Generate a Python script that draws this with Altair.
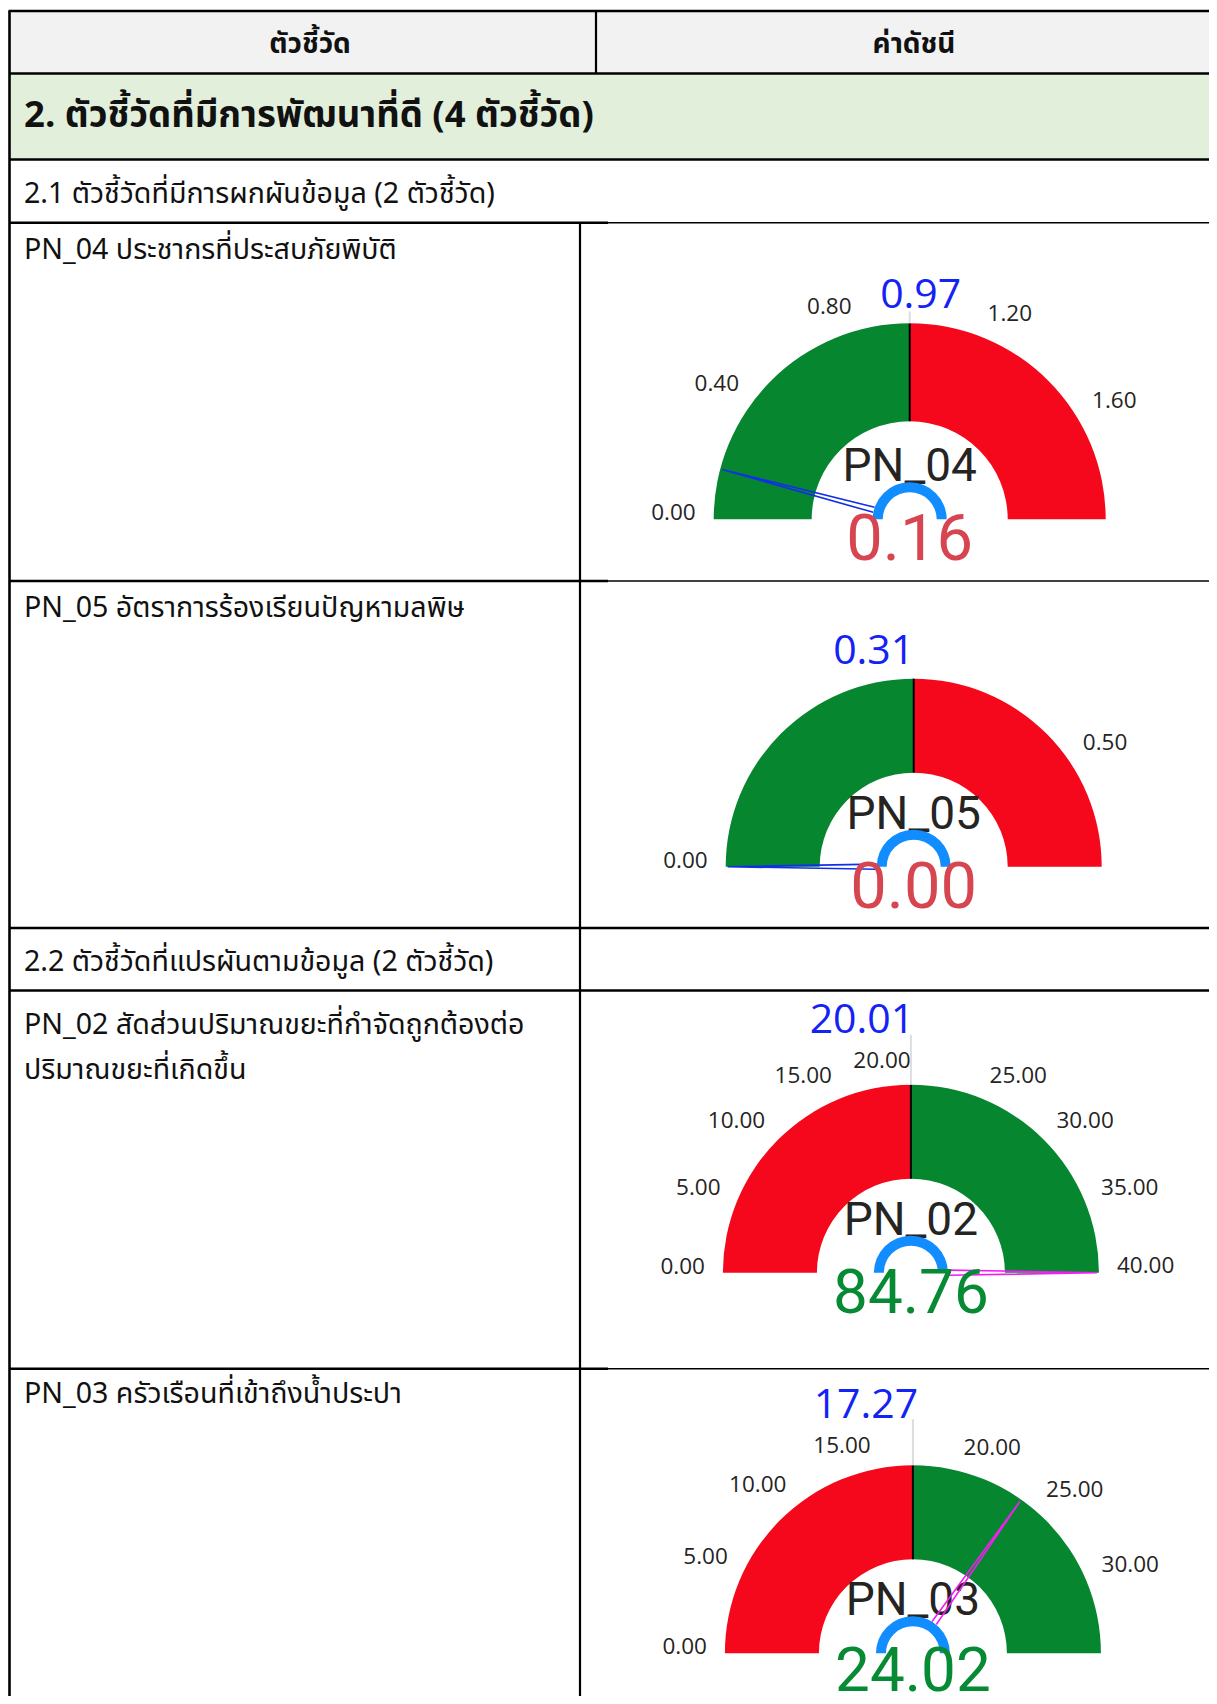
import math
import altair as alt
import pandas as pd

# ---------------- data ----------------
header_labels = ["ตัวชี้วัด", "ค่าดัชนี"]
section_title = "2. ตัวชี้วัดที่มีการพัฒนาที่ดี (4 ตัวชี้วัด)"
group_titles = ["2.1 ตัวชี้วัดที่มีการผกผันข้อมูล (2 ตัวชี้วัด)",
                "2.2 ตัวชี้วัดที่แปรผันตามข้อมูล (2 ตัวชี้วัด)"]
indicator_lines = [
    ["PN_04 ประชากรที่ประสบภัยพิบัติ"],
    ["PN_05 อัตราการร้องเรียนปัญหามลพิษ"],
    ["PN_02 สัดส่วนปริมาณขยะที่กำจัดถูกต้องต่อ", "ปริมาณขยะที่เกิดขึ้น"],
    ["PN_03 ครัวเรือนที่เข้าถึงน้ำประปา"],
]
gauge_codes = ["PN_04", "PN_05", "PN_02", "PN_03"]
gauge_values = [0.16, 0.00, 84.76, 24.02]
gauge_targets = [0.97, 0.31, 20.01, 17.27]
gauge_max = [1.94, 0.62, 40.02, 34.54]
higher_is_better = [False, False, True, True]
tick_values = [
    [0.0, 0.4, 0.8, 1.2, 1.6],
    [0.0, 0.5],
    [0, 5, 10, 15, 20, 25, 30, 35, 40],
    [0, 5, 10, 15, 20, 25, 30],
]

# ---------------- layout & style ----------------
W, H = 1201, 1688          # whole svg (page margin 8)
GOOD, BAD = "#06862F", "#F5081B"
HUB = "#118DFF"
TARGET_TXT = "#1322F5"
VALUE_TXT = ["#D64550", "#D64550", "#078A34", "#078A34"]
VALUE_FS = [65, 65, 62, 62]
VALUE_DY = [41, 41, 40, 38]
NEEDLE = ["#1030E8", "#1030E8", "#F01EF0", "#F01EF0"]
THAI_FONT = "Tahoma, 'Leelawadee UI', 'Noto Sans Thai', 'Noto Sans', sans-serif"
NUM_FONT = "'Open Sans', 'Noto Sans', sans-serif"
DIN_FONT = "Roboto, 'Noto Sans', sans-serif"

LEFT, RIGHT = 9.5, 8 + W
COL_HEAD, COL = 596, 580
Y_TOP, Y_HEAD, Y_SEC, Y_G1 = 11, 73.5, 159.5, 222.7
Y_R1, Y_R2, Y_G2, Y_R3 = 581, 928, 990.5, 1368.7
THICK_END = 608

gauge_cx = [909.7, 913.7, 910.9, 912.9]
gauge_cy = [519.3, 866.7, 1272.7, 1653.3]
gauge_ro = [196, 188, 188, 188]
target_dx = [11, -40, -49, -47]
target_dy = [-211, -203, -240, -235]
leader_len = [12, 0, 50, 46]

xs = alt.Scale(domain=[8, 8 + W], range=[0, W], nice=False, zero=False)
ys = alt.Scale(domain=[8, 8 + H], range=[0, H], nice=False, zero=False)
ts = alt.Scale(domain=[0, 1], range=[-math.pi / 2, math.pi / 2], nice=False, zero=False)


def X(f):
    return alt.X(f"{f}:Q", scale=xs, axis=None)


def Y(f):
    return alt.Y(f"{f}:Q", scale=ys, axis=None)


# ---------------- table ----------------
bg = pd.DataFrame([
    dict(x0=LEFT, x1=RIGHT, y0=Y_TOP, y1=Y_HEAD, c="#F2F2F2"),
    dict(x0=LEFT, x1=RIGHT, y0=Y_HEAD, y1=Y_SEC, c="#E2EFDA"),
])
bg_layer = alt.Chart(bg).mark_rect().encode(
    x=X("x0"), x2="x1", y=Y("y0"), y2="y1", color=alt.Color("c:N", scale=None))

lines = pd.DataFrame([
    dict(x0=LEFT - 1, x1=RIGHT, y0=Y_TOP, y1=Y_TOP, w=2.6),
    dict(x0=LEFT, x1=RIGHT, y0=Y_HEAD, y1=Y_HEAD, w=2.6),
    dict(x0=LEFT, x1=RIGHT, y0=Y_SEC, y1=Y_SEC, w=2.6),
    dict(x0=LEFT, x1=THICK_END, y0=Y_G1, y1=Y_G1, w=2.6),
    dict(x0=THICK_END, x1=RIGHT, y0=Y_G1, y1=Y_G1, w=1.4),
    dict(x0=LEFT, x1=THICK_END, y0=Y_R1, y1=Y_R1, w=2.6),
    dict(x0=THICK_END, x1=RIGHT, y0=Y_R1, y1=Y_R1, w=1.4),
    dict(x0=LEFT, x1=RIGHT, y0=Y_R2, y1=Y_R2, w=2.6),
    dict(x0=LEFT, x1=RIGHT, y0=Y_G2, y1=Y_G2, w=2.6),
    dict(x0=LEFT, x1=THICK_END, y0=Y_R3, y1=Y_R3, w=2.6),
    dict(x0=THICK_END, x1=RIGHT, y0=Y_R3, y1=Y_R3, w=1.4),
    dict(x0=LEFT, x1=LEFT, y0=Y_TOP, y1=8 + H, w=2.6),
    dict(x0=COL_HEAD, x1=COL_HEAD, y0=Y_TOP, y1=Y_HEAD, w=2.2),
    dict(x0=COL, x1=COL, y0=Y_G1, y1=8 + H, w=2.2),
])
line_layer = alt.Chart(lines).mark_rule(color="#000000").encode(
    x=X("x0"), x2="x1", y=Y("y0"), y2="y1",
    strokeWidth=alt.StrokeWidth("w:Q", scale=None))

head_txt = pd.DataFrame(dict(t=header_labels, x=[310, 914], y=[45, 45]))
head_layer = alt.Chart(head_txt).mark_text(
    font=THAI_FONT, fontSize=28, fontWeight="bold", align="center",
    baseline="middle", color="#111111").encode(x=X("x"), y=Y("y"), text="t:N")

sec_txt = pd.DataFrame(dict(t=[section_title], x=[24], y=[116]))
sec_layer = alt.Chart(sec_txt).mark_text(
    font=THAI_FONT, fontSize=36.5, fontWeight="bold", align="left",
    baseline="middle", color="#111111").encode(x=X("x"), y=Y("y"), text="t:N")

row_t, row_y = [], []
row_t.append(group_titles[0]); row_y.append(194)
row_t.append(indicator_lines[0][0]); row_y.append(250)
row_t.append(indicator_lines[1][0]); row_y.append(608)
row_t.append(group_titles[1]); row_y.append(962)
row_t.append(indicator_lines[2][0]); row_y.append(1025)
row_t.append(indicator_lines[2][1]); row_y.append(1070)
row_t.append(indicator_lines[3][0]); row_y.append(1394)
rows = pd.DataFrame(dict(t=row_t, y=row_y, x=[24] * len(row_t)))
row_layer = alt.Chart(rows).mark_text(
    font=THAI_FONT, fontSize=28.6, align="left", baseline="middle",
    color="#111111").encode(x=X("x"), y=Y("y"), text="t:N")

# ---------------- gauges ----------------
g_rows, hub_rows, needle_rows, tick_rows, lab_rows = [], [], [], [], []
for i in range(4):
    cx, cy, ro = gauge_cx[i], gauge_cy[i], gauge_ro[i]
    ri = ro / 2
    left_c, right_c = (BAD, GOOD) if higher_is_better[i] else (GOOD, BAD)
    base = dict(g=i, cx=cx, cy=cy, ro=ro, ri=ri, mx=gauge_max[i],
                tgt=gauge_targets[i], val=gauge_values[i])
    g_rows.append(dict(base, a="lo", c=left_c, s=0.0, e=gauge_targets[i]))
    g_rows.append(dict(base, a="hi", c=right_c, s=gauge_targets[i], e=gauge_max[i]))
    hub_rows.append(dict(base, c=HUB))
    for k, idx in ((-1, 0), (0, 1), (1, 2)):
        needle_rows.append(dict(base, k=k, idx=idx, c=NEEDLE[i]))
    for v in tick_values[i]:
        tick_rows.append(dict(base, v=v))
    lab_rows.append(dict(base, name=gauge_codes[i], vc=VALUE_TXT[i], vfs=VALUE_FS[i],
                         vdy=VALUE_DY[i], tdx=target_dx[i], tdy=target_dy[i],
                         lead=leader_len[i]))

gdf = pd.DataFrame(g_rows)
arc_layer = alt.Chart(gdf).transform_calculate(
    f0="datum.s / datum.mx", f1="datum.e / datum.mx"
).mark_arc(stroke=None).encode(
    x=X("cx"), y=Y("cy"),
    theta=alt.Theta("f0:Q", scale=ts, stack=None), theta2="f1:Q",
    radius=alt.Radius("ro:Q", scale=None), radius2="ri:Q",
    color=alt.Color("c:N", scale=None))

tgt_layer = alt.Chart(pd.DataFrame(lab_rows)).transform_calculate(
    phi="PI * datum.tgt / datum.mx",
    xa="datum.cx - datum.ri * cos(datum.phi)", ya="datum.cy - datum.ri * sin(datum.phi)",
    xb="datum.cx - datum.ro * cos(datum.phi)", yb="datum.cy - datum.ro * sin(datum.phi)",
).mark_rule(color="#000000", strokeWidth=2).encode(
    x=X("xa"), y=Y("ya"), x2="xb", y2="yb")

lead_layer = alt.Chart(pd.DataFrame(lab_rows)).transform_filter(
    "datum.lead > 0").transform_calculate(
    phi="PI * datum.tgt / datum.mx",
    xa="datum.cx - datum.ro * cos(datum.phi)", ya="datum.cy - datum.ro * sin(datum.phi)",
    xb="datum.cx - (datum.ro + datum.lead) * cos(datum.phi)",
    yb="datum.cy - (datum.ro + datum.lead) * sin(datum.phi)",
).mark_rule(color="#DDDDDD", strokeWidth=2).encode(
    x=X("xa"), y=Y("ya"), x2="xb", y2="yb")

needle_layer = alt.Chart(pd.DataFrame(needle_rows)).transform_calculate(
    f="clamp(datum.val / datum.mx, 0, 1)",
).transform_calculate(
    phi="PI * datum.f",
    r="datum.k == 0 ? datum.ro - 2 : 37",
    off="datum.k * 2.6",
).transform_calculate(
    nx="datum.cx - datum.r * cos(datum.phi) + datum.off * sin(datum.phi)",
    ny="datum.cy - datum.r * sin(datum.phi) - datum.off * cos(datum.phi)",
).mark_line(strokeWidth=1.6).encode(
    x=X("nx"), y=Y("ny"), detail="g:N", order="idx:Q",
    color=alt.Color("c:N", scale=None))

hub_layer = alt.Chart(pd.DataFrame(hub_rows)).transform_calculate(
    f0="0", f1="1", r0="37", r1="27"
).mark_arc(stroke=None).encode(
    x=X("cx"), y=Y("cy"),
    theta=alt.Theta("f0:Q", scale=ts, stack=None), theta2="f1:Q",
    radius=alt.Radius("r0:Q", scale=None), radius2="r1:Q",
    color=alt.Color("c:N", scale=None))

tick_base = alt.Chart(pd.DataFrame(tick_rows)).transform_calculate(
    f="datum.v / datum.mx",
).transform_calculate(
    phi="PI * datum.f",
    tx="datum.cx - (datum.ro + 18) * cos(datum.phi)",
    ty="datum.cy - (datum.ro + 18) * sin(datum.phi) - 6",
)
tick_left = tick_base.transform_filter("datum.f < 0.5").mark_text(
    font=NUM_FONT, fontSize=22.5, align="right", baseline="middle", color="#252423"
).encode(x=X("tx"), y=Y("ty"), text=alt.Text("v:Q", format=".2f"))
tick_right = tick_base.transform_filter("datum.f >= 0.5").mark_text(
    font=NUM_FONT, fontSize=22.5, align="left", baseline="middle", color="#252423"
).encode(x=X("tx"), y=Y("ty"), text=alt.Text("v:Q", format=".2f"))

labs = alt.Chart(pd.DataFrame(lab_rows)).transform_calculate(
    nyy="datum.cy - 38", vyy="datum.cy + datum.vdy",
    txx="datum.cx + datum.tdx", tyy="datum.cy + datum.tdy")
name_layer = labs.mark_text(
    font=DIN_FONT, fontSize=46, align="center", baseline="alphabetic", color="#252423"
).encode(x=X("cx"), y=Y("nyy"), text="name:N")
target_layer = labs.mark_text(
    font=NUM_FONT, fontSize=41, align="center", baseline="alphabetic", color=TARGET_TXT
).encode(x=X("txx"), y=Y("tyy"), text=alt.Text("tgt:Q", format=".2f"))
value_layer = labs.mark_text(
    font=DIN_FONT, align="center", baseline="alphabetic"
).encode(x=X("cx"), y=Y("vyy"), text=alt.Text("val:Q", format=".2f"),
         color=alt.Color("vc:N", scale=None),
         size=alt.Size("vfs:Q", scale=None))

chart = alt.layer(
    bg_layer, line_layer, head_layer, sec_layer, row_layer,
    arc_layer, tgt_layer, lead_layer, name_layer, needle_layer, hub_layer,
    tick_left, tick_right, target_layer, value_layer,
).properties(
    width=W, height=H, padding=0, autosize="none"
).configure_view(stroke=None)

chart.save("out.html", embed_options={"renderer": "svg", "actions": False})
